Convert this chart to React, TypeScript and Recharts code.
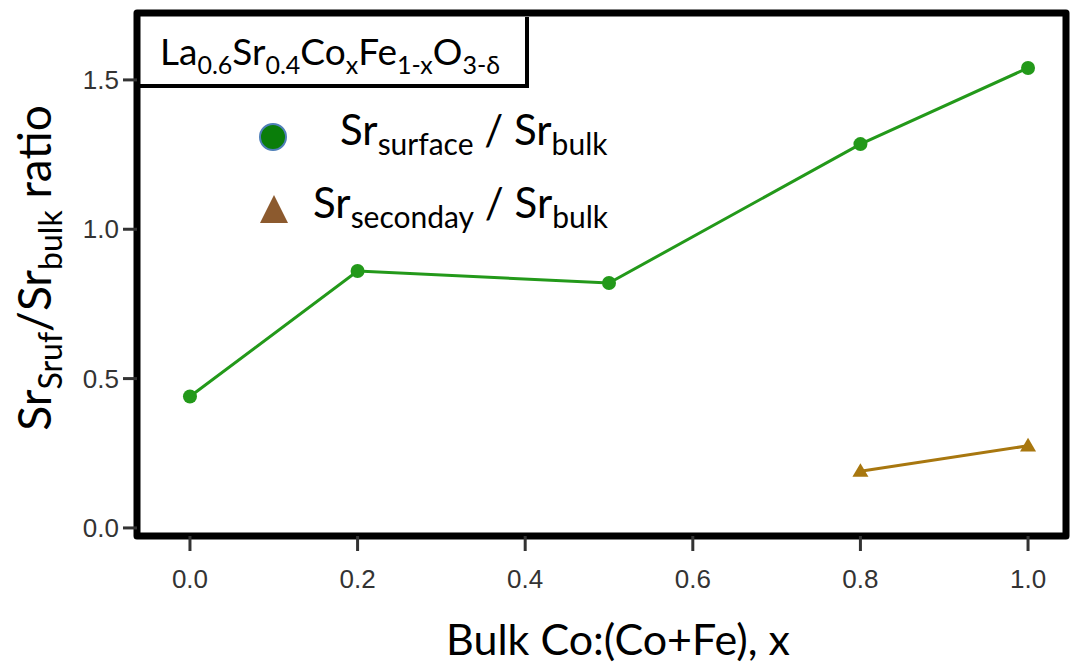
import { LineChart, Line, XAxis, YAxis, ReferenceArea, Legend } from "recharts";

// x = Co:(Co+Fe)
const surfaceX = [0, 0.2, 0.5, 0.8, 1.0];
const surfaceRatio = [0.44, 0.86, 0.82, 1.285, 1.54];
const secondaryX = [0.8, 1.0];
const secondaryRatio = [0.19, 0.275];

const xTicks = [0, 0.2, 0.4, 0.6, 0.8, 1.0];
const yTicks = [0, 0.5, 1.0, 1.5];

const X_MIN = -0.0632;
const X_MAX = 1.0453;
const Y_MIN = -0.027;
const Y_MAX = 1.724;

const surfaceData = surfaceX.map((x, i) => ({ x, y: surfaceRatio[i] }));
const secondaryData = secondaryX.map((x, i) => ({ x, y: secondaryRatio[i] }));

const GREEN = "#23991a";
const BROWN = "#a8770f";
const TEXT_FONT = "Lato, 'Open Sans', sans-serif";
const TICK_FONT = "'Liberation Sans', Arial, sans-serif";

const Triangle = (props: any) => {
  const { cx, cy, key } = props;
  if (cx == null || cy == null) return null;
  const s = 8;
  return (
    <polygon
      key={key}
      points={`${cx},${cy - s} ${cx - s},${cy + s * 0.7} ${cx + s},${cy + s * 0.7}`}
      fill={BROWN}
    />
  );
};

const YLabel = () => (
  <text
    transform="translate(51,268) rotate(-90)"
    textAnchor="middle"
    fontFamily={TEXT_FONT}
    fontSize={46}
    fill="#000"
  >
    <tspan>Sr</tspan>
    <tspan fontSize={32} dy={11}>Sruf</tspan>
    <tspan dy={-11}>/Sr</tspan>
    <tspan fontSize={32} dy={11}>bulk</tspan>
    <tspan dy={-11}> ratio</tspan>
  </text>
);

const XLabel = () => (
  <text x={618} y={655} textAnchor="middle" fontFamily={TEXT_FONT} fontSize={43} fill="#000">
    Bulk Co:(Co+Fe), x
  </text>
);

const LegendBox = () => (
  <div style={{ position: "relative", width: 0, height: 0 }}>
    <svg
      width={1070}
      height={665}
      style={{ position: "absolute", left: 0, top: 0, overflow: "visible" }}
    >
      <circle cx={273} cy={137} r={13} fill="#0a7d0a" stroke="#4f7fb8" strokeWidth={2} />
      <text x={340} y={145} fontFamily={TEXT_FONT} fontSize={42} fill="#000">
        <tspan>Sr</tspan>
        <tspan fontSize={30} dy={10}>surface</tspan>
        <tspan dy={-10}> / Sr</tspan>
        <tspan fontSize={30} dy={10}>bulk</tspan>
      </text>
      <polygon points="274,195 260,223 288,223" fill="#8c5a2e" />
      <text x={313} y={218} fontFamily={TEXT_FONT} fontSize={42} fill="#000">
        <tspan>Sr</tspan>
        <tspan fontSize={30} dy={10}>seconday</tspan>
        <tspan dy={-10}> / Sr</tspan>
        <tspan fontSize={30} dy={10}>bulk</tspan>
      </text>
    </svg>
  </div>
);

export default function App() {
  return (
    <div style={{ position: "absolute", left: 0, top: 0, width: 1070, height: 665, background: "#fff" }}>
      <LineChart width={1070} height={665} margin={{ top: 13, right: 4, bottom: 0, left: 0 }}>
        <XAxis
          type="number"
          dataKey="x"
          domain={[X_MIN, X_MAX]}
          ticks={xTicks}
          allowDataOverflow
          axisLine={false}
          height={129}
          tickSize={15}
          tickMargin={19}
          tickLine={{ stroke: "#333", strokeWidth: 3 }}
          tick={{ fill: "#333", fontSize: 26, fontFamily: TICK_FONT }}
          tickFormatter={(v: number) => v.toFixed(1)}
          label={{ content: XLabel }}
        />
        <YAxis
          type="number"
          dataKey="y"
          domain={[Y_MIN, Y_MAX]}
          ticks={yTicks}
          allowDataOverflow
          axisLine={false}
          width={137}
          tickSize={14}
          tickMargin={4}
          tickLine={{ stroke: "#333", strokeWidth: 3 }}
          tick={{ fill: "#333", fontSize: 26, fontFamily: TICK_FONT }}
          tickFormatter={(v: number) => v.toFixed(1)}
          label={{ content: YLabel }}
        />
        <Legend verticalAlign="top" content={LegendBox} wrapperStyle={{ left: 0, top: 0, width: 0, height: 0 }} />
        <Line
          data={surfaceData}
          dataKey="y"
          name="Sr surface / Sr bulk"
          stroke={GREEN}
          strokeWidth={3}
          dot={{ r: 7, fill: GREEN, stroke: "none" }}
          isAnimationActive={false}
        />
        <Line
          data={secondaryData}
          dataKey="y"
          name="Sr seconday / Sr bulk"
          stroke={BROWN}
          strokeWidth={3}
          dot={Triangle}
          isAnimationActive={false}
        />
        <ReferenceArea
          x1={X_MIN}
          x2={X_MAX}
          y1={Y_MIN}
          y2={Y_MAX}
          ifOverflow="visible"
          fill="none"
          stroke="#000"
          strokeWidth={7}
          strokeLinejoin="round"
        />
      </LineChart>
      <svg width={1070} height={665} style={{ position: "absolute", left: 0, top: 0, pointerEvents: "none" }}>
        <path d="M140,86 H527 V17" fill="none" stroke="#000" strokeWidth={4} />
        <text x={160} y={65} fontFamily={TEXT_FONT} fontSize={37} fill="#000">
          <tspan>La</tspan>
          <tspan fontSize={25} dy={9}>0.6</tspan>
          <tspan dy={-9}>Sr</tspan>
          <tspan fontSize={25} dy={9}>0.4</tspan>
          <tspan dy={-9}>Co</tspan>
          <tspan fontSize={25} dy={9}>x</tspan>
          <tspan dy={-9}>Fe</tspan>
          <tspan fontSize={25} dy={9}>1-x</tspan>
          <tspan dy={-9}>O</tspan>
          <tspan fontSize={25} dy={9}>3-δ</tspan>
        </text>
      </svg>
    </div>
  );
}
